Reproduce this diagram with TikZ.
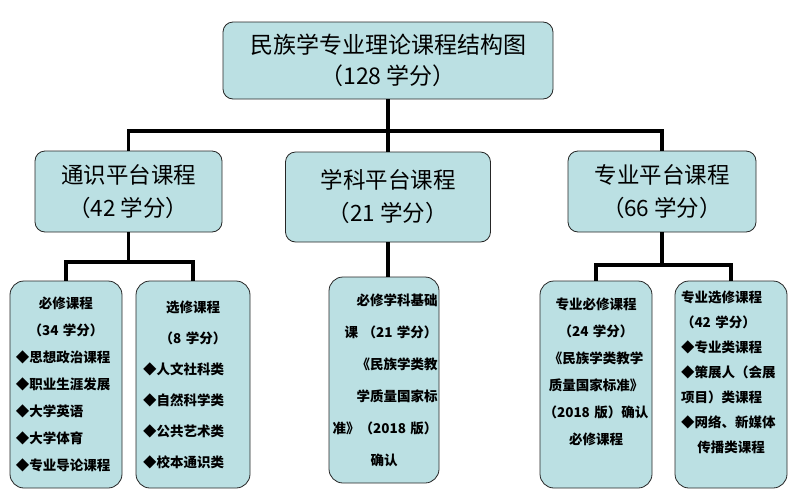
\documentclass[tikz,border=0pt]{standalone}
\usepackage{fontspec}
\setmainfont{Noto Sans CJK SC}
\usetikzlibrary{positioning}
\definecolor{boxfill}{HTML}{BBE0E3}
\newcommand{\ctr}[1]{\hfill#1\hfill\mbox{}}

\begin{document}
\begin{tikzpicture}[x=1pt, y=-1pt,
  block/.style args = {#1,#2}{draw=black!85, line width=0.8pt, fill=boxfill, rounded corners=#1, minimum width=#2, inner sep=0pt},
  head/.style = {font=\fontsize{23}{31}\selectfont, align=center},
  plat/.style = {font=\fontsize{22.5}{33}\selectfont, align=center},
  leaf/.style = {font=\bfseries\fontsize{13.5}{#1}\selectfont, text width=100pt},
  link/.style = {line width=3.5pt}]
\useasboundingbox (0,0) rectangle (798,501);

\node (top) [block={10pt,330pt}, head, minimum height=77pt] at (388,60.5) {民族学专业理论课程结构图\\（128 学分）};
\node (tong) [block={10pt,187pt}, plat, minimum height=81pt] at (128.5,191.5) {通识平台课程\\（42 学分）};
\node (xueke) [block={10pt,205pt}, plat, minimum height=90pt] at (388,197) {学科平台课程\\（21 学分）};
\node (zhuan) [block={10pt,188pt}, plat, minimum height=81pt] at (662,191.5) {专业平台课程\\（66 学分）};

\node (bixiu) [block={14pt,112pt}, leaf=27, align=left, minimum height=207pt] at (66,384.5) {\ctr{必修课程}\\\ctr{（34 学分）}\\◆思想政治课程\\◆职业生涯发展\\◆大学英语\\◆大学体育\\◆专业导论课程};
\node (xuanxiu) [block={14pt,114pt}, leaf=31, align=left, minimum height=207pt] at (193,384.5) {\ctr{选修课程}\\\ctr{（8 学分）}\\◆人文社科类\\◆自然科学类\\◆公共艺术类\\◆校本通识类};
\node (jichu) [block={14pt,110pt}, leaf=32, text width=107pt, align=right, minimum height=206pt] at (384,380) {必修学科基础\\课\ （21~学分）\\《民族学类教\\学质量国家标\\准》（2018~版）\\\ctr{确认}};
\node (zbx) [block={14pt,112pt}, leaf=27, text width=108pt, align=center, minimum height=207pt] at (596,384.5) {专业必修课程\\（24~学分）\\《民族学类教学\\质量国家标准》\\（2018~版）确认\\必修课程\\\mbox{}};
\node (zxx) [block={14pt,112pt}, leaf=25, align=left, minimum height=207pt] at (731,384.5) {专业选修课程\\（42~学分）\\◆专业类课程\\◆策展人（会展\\项目）类课程\\◆网络、新媒体\\\ctr{传播类课程}\\\mbox{}};

\coordinate (bus) at (388,131);
\coordinate (jl) at (130,262);
\coordinate (jr) at (662,265);
\draw[link] (top.south) -- (xueke.north);
\draw[link] (tong.north) -- (tong.north |- bus) -- (zhuan.north |- bus) -- (zhuan.north);
\draw[link] (tong.south) -- (tong.south |- jl);
\draw[link] (bixiu.north) -- (bixiu.north |- jl) -- (xuanxiu.north |- jl) -- (xuanxiu.north);
\draw[link] (xueke.south) -- (xueke.south |- jichu.north);
\draw[link] (zhuan.south) -- (zhuan.south |- jr);
\draw[link] (zbx.north) -- (zbx.north |- jr) -- (zxx.north |- jr) -- (zxx.north);
\end{tikzpicture}
\end{document}
